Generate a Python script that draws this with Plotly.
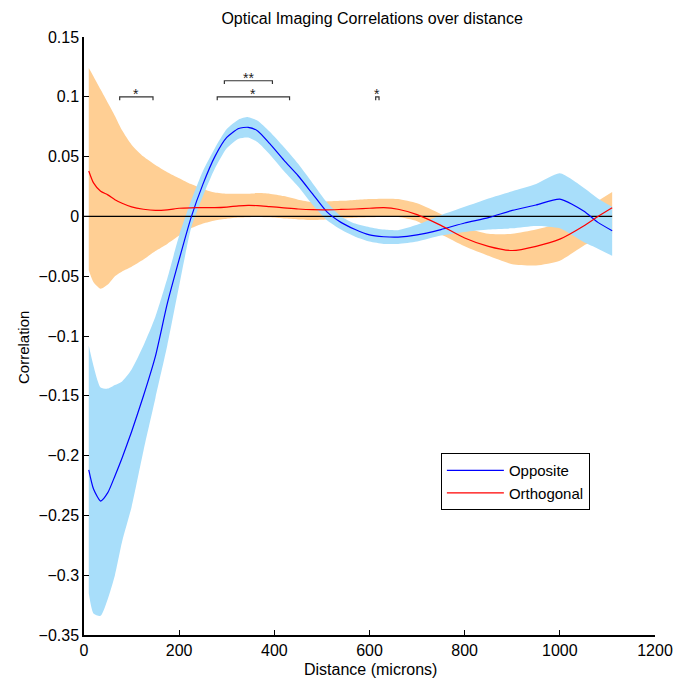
import plotly.graph_objects as go

# Distance bins (microns)
distance = [10, 20, 35, 50, 65, 80, 100, 125, 150, 175, 200, 225, 250, 275, 300,
            325, 345, 365, 390, 420, 450, 480, 510, 540, 570, 600, 630, 660, 700,
            750, 800, 850, 900, 950, 1000, 1050, 1080, 1110]

# Opposite: mean correlation and confidence band
opp_mean = [-0.212, -0.228, -0.238, -0.231, -0.217, -0.202, -0.180, -0.150, -0.117,
            -0.073, -0.036, -0.001, 0.027, 0.050, 0.066, 0.0735, 0.0745, 0.0715,
            0.061, 0.047, 0.034, 0.019, 0.004, -0.005, -0.011, -0.0155, -0.017,
            -0.0173, -0.0155, -0.011, -0.0055, -0.001, 0.005, 0.0095, 0.0145,
            0.0045, -0.005, -0.012]
opp_upper = [-0.108, -0.125, -0.143, -0.144, -0.141, -0.138, -0.128, -0.108, -0.084,
             -0.052, -0.016, 0.013, 0.038, 0.057, 0.073, 0.081, 0.083, 0.080, 0.071,
             0.058, 0.044, 0.028, 0.012, 0.000, -0.006, -0.009, -0.011, -0.0115,
             -0.007, 0.001, 0.008, 0.015, 0.021, 0.027, 0.036, 0.024, 0.015, 0.008]
opp_lower = [-0.315, -0.332, -0.334, -0.320, -0.300, -0.272, -0.243, -0.196, -0.152,
             -0.108, -0.058, -0.010, 0.017, 0.040, 0.057, 0.065, 0.066, 0.062, 0.052,
             0.038, 0.025, 0.010, -0.003, -0.011, -0.017, -0.021, -0.023, -0.023,
             -0.021, -0.016, -0.013, -0.011, -0.010, -0.008, -0.010, -0.0215,
             -0.027, -0.033]

# Orthogonal: mean correlation and confidence band
orth_mean = [0.038, 0.028, 0.021, 0.018, 0.014, 0.011, 0.008, 0.006, 0.005, 0.0055,
             0.0068, 0.0072, 0.0073, 0.0073, 0.0078, 0.0088, 0.0092, 0.009, 0.0082,
             0.0072, 0.0062, 0.0056, 0.0055, 0.0058, 0.0062, 0.0068, 0.0073, 0.006,
             0.0015, -0.0075, -0.018, -0.025, -0.0285, -0.025, -0.019, -0.008,
             0.000, 0.0073]
orth_upper = [0.124, 0.117, 0.106, 0.095, 0.084, 0.072, 0.060, 0.050, 0.043, 0.037,
              0.032, 0.027, 0.023, 0.020, 0.019, 0.019, 0.019, 0.0195, 0.019, 0.017,
              0.014, 0.012, 0.0125, 0.013, 0.0138, 0.0145, 0.0148, 0.0145, 0.011,
              0.002, -0.009, -0.0145, -0.0145, -0.011, -0.005, 0.006, 0.013, 0.0204]
orth_lower = [-0.045, -0.055, -0.0605, -0.057, -0.050, -0.046, -0.042, -0.036, -0.029,
              -0.023, -0.016, -0.010, -0.006, -0.0034, -0.002, -0.001, -0.0007,
              -0.0005, -0.0008, -0.0018, -0.0025, -0.003, -0.0025, -0.0018, -0.0012,
              -0.0008, -0.0006, -0.0005, -0.004, -0.015, -0.025, -0.033, -0.040,
              -0.041, -0.037, -0.0245, -0.019, -0.0145]

# Significance brackets: start, end, bracket level, label
sig_start = [75, 280, 295, 613]
sig_end = [145, 432, 396, 620]
sig_level = [0.1, 0.1, 0.1134, 0.1]
sig_label = ["*", "*", "**", "*"]

x_ticks = [0, 200, 400, 600, 800, 1000, 1200]
y_ticks = [-0.35, -0.3, -0.25, -0.2, -0.15, -0.1, -0.05, 0, 0.05, 0.1, 0.15]

ORANGE_FILL = "#FFCF94"
BLUE_FILL = "#A8DEFA"
FONT = "Liberation Sans, Arial, Helvetica, sans-serif"

fig = go.Figure()


def add_band(lower, upper, color):
    fig.add_trace(go.Scatter(x=distance, y=lower, mode="lines",
                             line=dict(width=0, shape="spline", smoothing=0.6),
                             showlegend=False, hoverinfo="skip"))
    fig.add_trace(go.Scatter(x=distance, y=upper, mode="lines",
                             line=dict(width=0, shape="spline", smoothing=0.6),
                             fill="tonexty", fillcolor=color,
                             showlegend=False, hoverinfo="skip"))


add_band(orth_lower, orth_upper, ORANGE_FILL)
add_band(opp_lower, opp_upper, BLUE_FILL)

# zero reference line
fig.add_trace(go.Scatter(x=[0, 1110], y=[0, 0], mode="lines",
                         line=dict(color="black", width=1.2),
                         showlegend=False, hoverinfo="skip"))

fig.add_trace(go.Scatter(x=distance, y=opp_mean, mode="lines", name="Opposite",
                         line=dict(color="#0000FF", width=1.2, shape="spline", smoothing=0.6),
                         legendrank=1))
fig.add_trace(go.Scatter(x=distance, y=orth_mean, mode="lines", name="Orthogonal",
                         line=dict(color="#FF0000", width=1.2, shape="spline", smoothing=0.6),
                         legendrank=2))

# significance brackets with stars
tick_drop = 0.0028
for s, e, lvl, lab in zip(sig_start, sig_end, sig_level, sig_label):
    fig.add_trace(go.Scatter(x=[s, s, e, e], y=[lvl - tick_drop, lvl, lvl, lvl - tick_drop],
                             mode="lines", line=dict(color="#333333", width=1.2),
                             showlegend=False, hoverinfo="skip"))
    fig.add_annotation(x=(s + e) / 2, y=lvl, text=lab, showarrow=False,
                       yanchor="bottom", yshift=-6, borderpad=0,
                       font=dict(family=FONT, size=14, color="#222222"))

# axis titles
fig.add_annotation(xref="paper", yref="paper", x=0.502, y=-0.0585,
                   text="Distance (microns)", showarrow=False,
                   xanchor="center", yanchor="middle",
                   font=dict(family=FONT, size=16, color="black"))
fig.add_annotation(xref="paper", yref="paper", x=-0.105, y=0.48,
                   text="Correlation", showarrow=False, textangle=-90,
                   xanchor="center", yanchor="middle",
                   font=dict(family=FONT, size=15, color="black"))

fig.update_layout(
    width=673, height=679,
    margin=dict(l=84, r=18, t=37, b=44),
    paper_bgcolor="white", plot_bgcolor="white",
    font=dict(family=FONT, size=16, color="black"),
    title=dict(text="Optical Imaging Correlations over distance", x=0.553, xanchor="center",
               y=0.9735, yanchor="middle", font=dict(family=FONT, size=16)),
    legend=dict(x=0.625, y=0.304, xanchor="left", yanchor="top",
                bordercolor="black", borderwidth=1, bgcolor="white",
                font=dict(family=FONT, size=15), tracegroupgap=0,
                traceorder="normal", itemwidth=57),
)

fig.update_xaxes(range=[0, 1200], tickvals=x_ticks, ticks="inside", ticklen=5,
                 tickcolor="black", showline=True, linecolor="black", linewidth=1.5,
                 showgrid=False, zeroline=False, mirror=False, automargin=False,
                 tickfont=dict(size=16))
fig.update_yaxes(range=[-0.35, 0.15], tickvals=y_ticks, ticks="inside", ticklen=5,
                 tickcolor="black", showline=True, linecolor="black", linewidth=1.5,
                 showgrid=False, zeroline=False, mirror=False, automargin=False,
                 tickfont=dict(size=16))

fig.write_html("out.html")
